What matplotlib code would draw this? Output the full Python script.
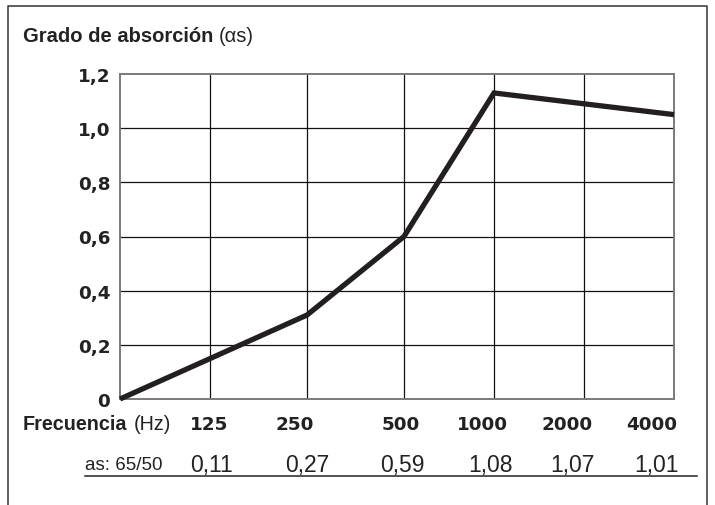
import matplotlib
matplotlib.use("Agg")
import matplotlib.pyplot as plt
from matplotlib.lines import Line2D


# datos
frequencies = ["125", "250", "500", "1000", "2000", "4000"]
alpha_values = ["0,11", "0,27", "0,59", "1,08", "1,07", "1,01"]
y_ticks = [0, 0.2, 0.4, 0.6, 0.8, 1.0, 1.2]
y_tick_labels = ["0", "0,2", "0,4", "0,6", "0,8", "1,0", "1,2"]

# curva: índice de la línea vertical de la rejilla y grado de absorción
curve_index = [0, 2, 3, 4, 6]
curve_alpha = [0.0, 0.31, 0.60, 1.13, 1.05]

# posición de las líneas verticales (la rejilla no es regular)
GRID_X = [0, 90, 187, 284, 374, 464, 554]

W, H = 715, 506
SANS = "Liberation Sans"
WIDE = "DejaVu Sans"
INK = "#222222"


def px(x, y):
    """Convierte píxeles (origen arriba a la izquierda) a fracción de figura."""
    return x / W, 1 - y / H


def label_pair(fig, x, y, bold_text, light_text, size, gap=5):
    """Texto en negrita seguido de un texto normal en la misma línea."""
    fx, fy = px(x, y)
    t = fig.text(fx, fy, bold_text, fontfamily=SANS, fontweight="bold",
                 fontsize=size, va="center", ha="left", color=INK)
    fig.canvas.draw()
    bb = t.get_window_extent()
    fig.text((bb.x1 + gap) / W, fy, light_text, fontfamily=SANS, fontsize=size,
             va="center", ha="left", color=INK)


def main():
    fig = plt.figure(figsize=(W / 100, H / 100), dpi=100)
    fig.patch.set_facecolor("white")

    left, top, right, bottom = 120, 75, 674, 400
    ax = fig.add_axes([left / W, 1 - bottom / H, (right - left) / W, (bottom - top) / H])

    ax.set_xlim(GRID_X[0], GRID_X[-1])
    ax.set_ylim(0, 1.2)

    for y in y_ticks[1:-1]:
        ax.axhline(y, color="#111111", lw=0.9, zorder=1)
    for x in GRID_X[1:-1]:
        ax.axvline(x, color="#111111", lw=0.9, zorder=1)

    for side in ax.spines.values():
        side.set_color("#7a7a7a")
        side.set_linewidth(1.4)

    xs = [GRID_X[i] for i in curve_index]
    ax.plot(xs, curve_alpha, color="#231f20", lw=3.8, solid_capstyle="butt",
            solid_joinstyle="miter", zorder=3, clip_on=False)

    ax.set_xticks([])
    ax.set_yticks(y_ticks)
    ax.set_yticklabels(y_tick_labels, fontfamily=WIDE, fontweight="bold",
                       fontsize=13.2, color=INK)
    ax.tick_params(axis="y", length=0, pad=7)

    # título
    label_pair(fig, 23, 37, "Grado de absorción", "(αs)", 14.5, gap=5)

    # fila de frecuencias
    label_pair(fig, 23, 424, "Frecuencia", "(Hz)", 14.2, gap=6)
    freq_centers = [209, 295, 401, 482, 567, 652]
    for label, cx in zip(frequencies, freq_centers):
        x, y = px(cx, 425)
        fig.text(x, y, label, fontfamily=WIDE, fontweight="bold", fontsize=13.2,
                 ha="center", va="center", color=INK)

    # fila de valores
    ax_, ay_ = px(85, 466)
    fig.text(ax_, ay_, "as: 65/50", fontfamily=SANS, fontsize=13.5,
             ha="left", va="center", color=INK)
    value_centers = [211, 307, 402, 491, 572, 657]
    for label, cx in zip(alpha_values, value_centers):
        x, y = px(cx, 466)
        fig.text(x, y, label, fontfamily=SANS, fontsize=16.5,
                 ha="center", va="center", color=INK)

    x0, y0 = px(85, 476.5)
    x1, _ = px(697, 476.5)
    fig.add_artist(Line2D([x0, x1], [y0, y0], color=INK, lw=1.1))

    # marco exterior
    fl, ft = px(8, 7)
    fr, fb = px(707, 520)
    fig.add_artist(Line2D([fl, fl, fr, fr], [fb, ft, ft, fb], color="#333333", lw=1.1))

    fig.savefig("out.png", dpi=100)
    plt.close(fig)


if __name__ == "__main__":
    main()
